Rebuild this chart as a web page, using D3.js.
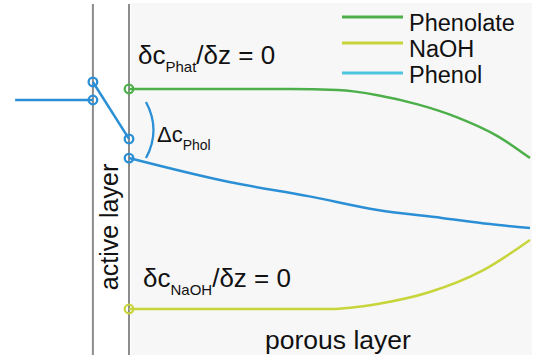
<!DOCTYPE html>
<html><head><meta charset="utf-8">
<script src="https://cdn.jsdelivr.net/npm/d3@7"></script>
<style>body{margin:0;background:#fff}svg{display:block}text{font-family:"Liberation Sans",Arial,Helvetica,sans-serif;fill:#111}</style>
</head><body>
<script>
// z: position (porous layer 0..100, active layer negative), c: concentration
const layerBoundaries = [-9, 0];
const phenolateZ = [0, 40, 52, 62, 72, 82, 92, 100];
const phenolateC = [10, 10, 9.95, 9.72, 9.3, 8.7, 7.85, 6.86];
const naohZ = [0, 50, 62, 75, 88, 100];
const naohC = [0, 0, 0.23, 0.77, 1.73, 3.14];
const phenolPorousZ = [0, 25, 45, 62, 78, 90, 100];
const phenolPorousC = [6.86, 5.77, 5.12, 4.5, 4.14, 3.86, 3.68];
const phenolFeedZ = [-28.4, -9];
const phenolFeedC = [9.5, 9.5];
const phenolActiveZ = [-9, 0];
const phenolActiveC = [10.32, 7.73];
const legendLabels = ["Phenolate", "NaOH", "Phenol"];

const W = 534, H = 355;
const x = d3.scaleLinear().domain([0, 100]).range([129, 530]);
const y = d3.scaleLinear().domain([0, 10]).range([309, 89]);
const col = {green: "#4caf4a", yellow: "#c7d53b", blue: "#2b8fd6", cyan: "#4fc4de", grey: "#8c8c8c"};

const svg = d3.select("body").append("svg").attr("width", W).attr("height", H);
const zip = (a, b) => a.map((v, i) => [v, b[i]]);
const line = d3.line().x(d => x(d[0])).y(d => y(d[1])).curve(d3.curveMonotoneX);
const straight = d3.line().x(d => x(d[0])).y(d => y(d[1]));

// porous background
svg.append("rect").attr("x", x(0) + 2).attr("y", 3).attr("width", 532 - x(0) - 2).attr("height", H - 3).attr("fill", "#f7f7f7");

// layer boundaries
svg.selectAll("line.bound").data(layerBoundaries).join("line")
  .attr("x1", d => x(d)).attr("x2", d => x(d)).attr("y1", 4).attr("y2", H)
  .attr("stroke", col.grey).attr("stroke-width", 2);

// curves
const sw = 2.5;
svg.append("path").attr("d", line(zip(phenolateZ, phenolateC))).attr("fill", "none").attr("stroke", col.green).attr("stroke-width", sw);
svg.append("path").attr("d", line(zip(naohZ, naohC))).attr("fill", "none").attr("stroke", col.yellow).attr("stroke-width", sw);
svg.append("path").attr("d", line(zip(phenolPorousZ, phenolPorousC))).attr("fill", "none").attr("stroke", col.blue).attr("stroke-width", sw);
svg.append("path").attr("d", straight(zip(phenolFeedZ, phenolFeedC))).attr("fill", "none").attr("stroke", col.blue).attr("stroke-width", sw);
svg.append("path").attr("d", straight(zip(phenolActiveZ, phenolActiveC))).attr("fill", "none").attr("stroke", col.blue).attr("stroke-width", sw);

// bracket for delta c
const b0 = y(phenolActiveC[1]) - 37, b1 = y(phenolPorousC[0]);
svg.append("path").attr("d", `M${x(0)+17},${b0} Q${x(0)+32},${(b0+b1)/2} ${x(0)+17},${b1}`)
  .attr("fill", "none").attr("stroke", col.blue).attr("stroke-width", 2.3);

// circles
const circles = [
  [phenolFeedZ[1], phenolFeedC[1], col.blue],
  [phenolActiveZ[0], phenolActiveC[0], col.blue],
  [phenolActiveZ[1], phenolActiveC[1], col.blue],
  [phenolPorousZ[0], phenolPorousC[0], col.blue],
  [phenolateZ[0], phenolateC[0], col.green],
  [naohZ[0], naohC[0], col.yellow]
];
svg.selectAll("circle.pt").data(circles).join("circle")
  .attr("cx", d => x(d[0])).attr("cy", d => y(d[1])).attr("r", 4.3)
  .attr("fill", "none").attr("stroke", d => d[2]).attr("stroke-width", 2.3);

// legend
const legColors = [col.green, col.yellow, col.cyan];
const legLineY = [17, 43, 73], legTextY = [31, 57, 83];
legendLabels.forEach((t, i) => {
  svg.append("line").attr("x1", 342).attr("x2", 403).attr("y1", legLineY[i]).attr("y2", legLineY[i])
    .attr("stroke", legColors[i]).attr("stroke-width", 2.8);
  svg.append("text").attr("x", 409).attr("y", legTextY[i]).attr("font-size", 23.5)
    .attr("textLength", 121).attr("lengthAdjust", "spacingAndGlyphs")
    .attr("textLength", null).text(t);
});

// annotations
function subText(xp, yp, size, subSize, parts) {
  const t = svg.append("text").attr("x", xp).attr("y", yp).attr("font-size", size);
  parts.forEach(p => {
    const s = t.append("tspan").text(p[0]);
    if (p[1] === "sub") s.attr("font-size", subSize).attr("dy", 8);
    else if (p[1] === "up") s.attr("dy", -8);
  });
  return t;
}
subText(138, 64, 26, 15, [["δc"], ["Phat", "sub"], ["/δz = 0", "up"]]);
subText(143, 287, 26, 15, [["δc"], ["NaOH", "sub"], ["/δz = 0", "up"]]);
subText(157, 142, 22, 14, [["Δc"], ["Phol", "sub"]]);

svg.append("text").attr("transform", "translate(118,227) rotate(-90)").attr("text-anchor", "middle")
  .attr("font-size", 25).text("active layer");
svg.append("text").attr("x", 265).attr("y", 349).attr("font-size", 26.5).text("porous layer");
</script>
</body></html>
